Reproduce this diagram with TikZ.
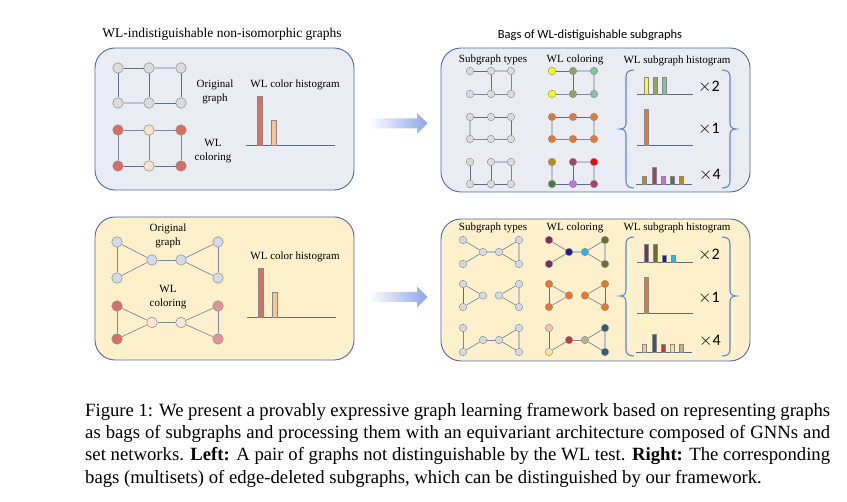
\documentclass[tikz,border=0pt]{standalone}
\usepackage{fontspec}
\setmainfont{Liberation Serif}
\newfontfamily\sansf{Carlito}
\definecolor{boxblue}{HTML}{E9ECF2}
\definecolor{boxyel}{HTML}{FDF0CA}
\definecolor{boxline}{HTML}{4A6AA5}
\definecolor{ngray}{HTML}{DCDCDC}
\definecolor{nline}{HTML}{888888}
\definecolor{nblue}{HTML}{D3DBEA}
\definecolor{wred}{HTML}{D6705F}
\definecolor{wpeach}{HTML}{FBE3C4}
\definecolor{wpeachb}{HTML}{FCE6D6}
\definecolor{wpink}{HTML}{E4929A}
\definecolor{barpeach}{HTML}{F8C690}
\definecolor{edark}{HTML}{5E6C88}
\definecolor{elight}{HTML}{BCC3CF}
\definecolor{axisc}{HTML}{5A6B85}
\definecolor{arrowc}{HTML}{8FA6E6}
\definecolor{bracec}{HTML}{5B86CC}
\definecolor{cyel}{HTML}{FFFF00}
\definecolor{colive}{HTML}{94A35A}
\definecolor{cteal}{HTML}{80C4A2}
\definecolor{corange}{HTML}{E8782F}
\definecolor{cgold}{HTML}{BF8A12}
\definecolor{cplum}{HTML}{A0446E}
\definecolor{cred}{HTML}{FF0000}
\definecolor{cgreen}{HTML}{4E7A3A}
\definecolor{cviolet}{HTML}{C470E0}
\definecolor{cpurple}{HTML}{7B2D6E}
\definecolor{cnavy}{HTML}{20208F}
\definecolor{csky}{HTML}{29B6F0}
\definecolor{cdolive}{HTML}{6B7030}
\definecolor{cpinkpe}{HTML}{F2C4B2}
\definecolor{cpaley}{HTML}{FBE49A}
\definecolor{ccrim}{HTML}{C0384A}
\definecolor{ckhaki}{HTML}{B5B77F}
\definecolor{cdteal}{HTML}{2F5C80}
\tikzset{
  panel/.style={draw=boxline, line width=0.9pt, rounded corners=20pt},
  bn/.style={circle, draw=nline, line width=0.5pt, minimum size=10.5pt, inner sep=0pt},
  sn/.style={circle, draw=nline, line width=0.4pt, minimum size=7.5pt, inner sep=0pt},
  ed/.style={draw=edark, line width=0.8pt},
  el/.style={draw=elight, line width=1.5pt},
  eg/.style={draw=edark!80, line width=0.7pt},
  lbl/.style={font=\fontsize{11}{13.5}\selectfont, align=center, inner sep=0pt},
  bar/.style={draw=nline, line width=0.4pt},
  axisline/.style={draw=axisc, line width=0.8pt},
  mult/.style={font=\sansf\fontsize{16}{16}\selectfont, inner sep=0pt},
  blockarrow/.style={left color=white, right color=arrowc},
  bracepath/.style={draw=bracec, line width=1.1pt}
}
\begin{document}
\begin{tikzpicture}[x=1pt,y=-1pt]
\useasboundingbox[fill=white] (0,0) rectangle (847,502);

% titles
\node[font=\fontsize{13.5}{15}\selectfont, inner sep=0pt] (ttl) at (222,34) {WL-indistiguishable non-isomorphic graphs};
\node[font=\sansf\fontsize{12.5}{14}\selectfont, inner sep=0pt] (ttr) at (590,35) {Bags of WL-distiguishable subgraphs};

% panels
\path[panel, fill=boxblue] (95,48) rectangle (354,190);
\path[panel, fill=boxyel] (95,217) rectangle (354,360);
\path[panel, fill=boxblue] (441,48) rectangle (750,192);
\path[panel, fill=boxyel] (441,219) rectangle (750,361);

% block arrows
\shade[blockarrow] (368,118.5) -- (417,118.5) -- (417,113) -- (427.5,123.5) -- (417,134) -- (417,128.5) -- (368,128.5) -- cycle;
\shade[blockarrow] (368,292) -- (417,292) -- (417,286.5) -- (427.5,297) -- (417,307.5) -- (417,302) -- (368,302) -- cycle;

% ===== top-left =====
\foreach \n/\x/\y in {a/118/68, b/149/68, c/181/68, d/118/103, e/149/103, f/181/103}
  \node[bn, fill=ngray] (A\n) at (\x,\y) {};
\draw[ed] (Aa)--(Ab); \draw[el] (Ab)--(Ac);
\draw[ed] (Aa)--(Ad); \draw[ed] (Ab)--(Ae); \draw[ed] (Ac)--(Af);
\draw[el] (Ad)--(Ae); \draw[ed] (Ae)--(Af);
\foreach \n/\x/\y/\c in {a/118/130/wred, b/149/130/wpeach, c/181/130/wred, d/118/166/wred, e/149/166/wpeach, f/181/166/wred}
  \node[bn, fill=\c] (B\n) at (\x,\y) {};
\draw[eg] (Ba)--(Bb); \draw[eg] (Bb)--(Bc);
\draw[eg] (Ba)--(Bd); \draw[eg] (Bb)--(Be); \draw[eg] (Bc)--(Bf);
\draw[ed] (Bd)--(Be); \draw[ed] (Be)--(Bf);
\node[lbl] (l1) at (215,92) {Original\\graph};
\node[lbl] (l2) at (213,151) {WL\\coloring};
\node[lbl] (l3) at (295,85) {WL color histogram};
\draw[axisline] (246,145) -- (335,145);
\draw[bar, fill=wred] (257,145) rectangle (262,96);
\draw[bar, fill=barpeach] (271,145) rectangle (276,120);

% ===== bottom-left =====
\foreach \n/\x/\y in {a/117/242, b/117/278, c/152/260, d/181/260, e/218/242, f/218/278}
  \node[bn, fill=nblue] (C\n) at (\x,\y) {};
\draw[eg] (Ca)--(Cb); \draw[eg] (Ca)--(Cc); \draw[eg] (Cb)--(Cc);
\draw[eg] (Cc)--(Cd); \draw[eg] (Cd)--(Ce); \draw[eg] (Cd)--(Cf); \draw[eg] (Ce)--(Cf);
\foreach \n/\x/\y/\c in {a/117/306/wred, b/117/339/wred, c/152/322.5/wpeachb, d/181/322.5/wpeachb, e/218/306/wpink, f/218/339/wpink}
  \node[bn, fill=\c] (D\n) at (\x,\y) {};
\draw[eg] (Da)--(Db); \draw[eg] (Da)--(Dc); \draw[eg] (Db)--(Dc);
\draw[eg] (Dc)--(Dd); \draw[eg] (Dd)--(De); \draw[eg] (Dd)--(Df); \draw[eg] (De)--(Df);
\node[lbl] (l4) at (168,236) {Original\\graph};
\node[lbl] (l5) at (168,297) {WL\\coloring};
\node[lbl] (l6) at (295,257) {WL color histogram};
\draw[axisline] (247,317) -- (336,317);
\draw[bar, fill=wred] (258,317) rectangle (263,268);
\draw[bar, fill=barpeach] (272,317) rectangle (277,292);

% ===== top-right =====
\node[lbl] (l7) at (493,60) {Subgraph types};
\node[lbl] (l8) at (575,60) {WL coloring};
\node[lbl] (l9) at (677,61) {WL subgraph histogram};
% row 1 (left vertical deleted)
\foreach \n/\x/\y in {a/470/71, b/491/71, c/511/71, d/470/94, e/491/94, f/511/94}
  \node[sn, fill=ngray] (P\n) at (\x,\y) {};
\draw[ed] (Pa)--(Pb); \draw[el] (Pb)--(Pc); \draw[ed] (Pb)--(Pe); \draw[eg] (Pc)--(Pf);
\draw[eg] (Pd)--(Pe); \draw[eg] (Pe)--(Pf);
\foreach \n/\x/\y/\c in {a/552/71/cyel, b/573/71/colive, c/594/71/cteal, d/552/94/cyel, e/573/94/colive, f/594/94/cteal}
  \node[sn, fill=\c] (Q\n) at (\x,\y) {};
\draw[ed] (Qa)--(Qb); \draw[el] (Qb)--(Qc); \draw[ed] (Qb)--(Qe); \draw[el] (Qc)--(Qf);
\draw[eg] (Qd)--(Qe); \draw[eg] (Qe)--(Qf);
% row 2 (middle vertical deleted)
\foreach \n/\x/\y in {a/470/117, b/491/117, c/511/117, d/470/139, e/491/139, f/511/139}
  \node[sn, fill=ngray] (R\n) at (\x,\y) {};
\draw[ed] (Ra)--(Rb); \draw[ed] (Rb)--(Rc); \draw[el] (Ra)--(Rd); \draw[ed] (Rc)--(Rf);
\draw[eg] (Rd)--(Re); \draw[eg] (Re)--(Rf);
\foreach \n/\x/\y in {a/552/117, b/573/117, c/594/117, d/552/139, e/573/139, f/594/139}
  \node[sn, fill=corange] (S\n) at (\x,\y) {};
\draw[ed] (Sa)--(Sb); \draw[ed] (Sb)--(Sc); \draw[el] (Sa)--(Sd); \draw[el] (Sc)--(Sf);
\draw[eg] (Sd)--(Se); \draw[eg] (Se)--(Sf);
% row 3 (top-left edge deleted)
\foreach \n/\x/\y in {a/470/162, b/491/162, c/511/162, d/470/184, e/491/184, f/511/184}
  \node[sn, fill=ngray] (T\n) at (\x,\y) {};
\draw[el] (Tb)--(Tc); \draw[ed] (Ta)--(Td); \draw[ed] (Tb)--(Te); \draw[eg] (Tc)--(Tf);
\draw[ed] (Td)--(Te); \draw[ed] (Te)--(Tf);
\foreach \n/\x/\y/\c in {a/552/162/cgold, b/573/162/cplum, c/594/162/cred, d/552/184/cgreen, e/573/184/cviolet, f/594/184/cplum}
  \node[sn, fill=\c] (U\n) at (\x,\y) {};
\draw[el] (Ub)--(Uc); \draw[el] (Ua)--(Ud); \draw[ed] (Ub)--(Ue); \draw[el] (Uc)--(Uf);
\draw[ed] (Ud)--(Ue); \draw[ed] (Ue)--(Uf);
% histograms
\draw[axisline] (637,94) -- (693,94);
\draw[bar, fill=cyel] (644.3,94) rectangle (647.7,77);
\draw[bar, fill=colive] (653.3,94) rectangle (656.7,77);
\draw[bar, fill=cteal] (662.3,94) rectangle (665.7,77);
\draw[axisline] (637,145) -- (693,145);
\draw[bar, fill=corange] (644.3,145) rectangle (647.7,109);
\draw[axisline] (636,184) -- (692,184);
\draw[bar, fill=cgold] (642.3,184) rectangle (645.7,176);
\draw[bar, fill=cplum] (652.3,184) rectangle (655.7,167);
\draw[bar, fill=cviolet] (661.3,184) rectangle (664.7,176);
\draw[bar, fill=cgreen] (670.3,184) rectangle (673.7,176);
\draw[bar, fill=cgold] (679.3,184) rectangle (682.7,176);
\node[mult] (m1) at (709,87) {$\times$2};
\node[mult] (m2) at (709,129) {$\times$1};
\node[mult] (m3) at (710,175) {$\times$4};
\draw[bracepath] (634,70) .. controls (629,70) and (626,72) .. (626,77) -- (626,123)
  .. controls (626,127) and (624,129) .. (620,129) .. controls (624,129) and (626,131) .. (626,135)
  -- (626,181) .. controls (626,186) and (629,188) .. (634,188);
\draw[bracepath] (722,70) .. controls (727,70) and (730,72) .. (730,77) -- (730,123)
  .. controls (730,127) and (732,129) .. (736,129) .. controls (732,129) and (730,131) .. (730,135)
  -- (730,181) .. controls (730,186) and (727,188) .. (722,188);

% ===== bottom-right =====
\node[lbl] (l10) at (493,228) {Subgraph types};
\node[lbl] (l11) at (575,228) {WL coloring};
\node[lbl] (l12) at (677,228) {WL subgraph histogram};
% row 1 (left side edge deleted)
\foreach \n/\x/\y in {a/463/240, b/463/264, c/483/252, d/499/252, e/519/240, f/519/264}
  \node[sn, fill=nblue] (E\n) at (\x,\y) {};
\draw[eg] (Ea)--(Ec); \draw[eg] (Eb)--(Ec); \draw[el] (Ec)--(Ed);
\draw[eg] (Ed)--(Ee); \draw[eg] (Ed)--(Ef); \draw[el] (Ee)--(Ef);
\foreach \n/\x/\y/\c in {a/549/240/cpurple, b/549/264/cpurple, c/569/252/cnavy, d/585/252/csky, e/605/240/cdolive, f/605/264/cdolive}
  \node[sn, fill=\c] (F\n) at (\x,\y) {};
\draw[eg] (Fa)--(Fc); \draw[eg] (Fb)--(Fc); \draw[el] (Fc)--(Fd);
\draw[eg] (Fd)--(Fe); \draw[eg] (Fd)--(Ff); \draw[el] (Fe)--(Ff);
% row 2 (bridge deleted)
\foreach \n/\x/\y in {a/463/284, b/463/307, c/483/295.5, d/499/295.5, e/519/284, f/519/307}
  \node[sn, fill=nblue] (G\n) at (\x,\y) {};
\draw[ed] (Ga)--(Gb); \draw[eg] (Ga)--(Gc); \draw[eg] (Gb)--(Gc);
\draw[eg] (Gd)--(Ge); \draw[eg] (Gd)--(Gf); \draw[el] (Ge)--(Gf);
\foreach \n/\x/\y in {a/549/284, b/549/307, c/569/295.5, d/585/295.5, e/605/284, f/605/307}
  \node[sn, fill=corange] (H\n) at (\x,\y) {};
\draw[ed] (Ha)--(Hb); \draw[eg] (Ha)--(Hc); \draw[eg] (Hb)--(Hc);
\draw[eg] (Hd)--(He); \draw[eg] (Hd)--(Hf); \draw[ed] (He)--(Hf);
% row 3 (upper-left diagonal deleted)
\foreach \n/\x/\y in {a/463/328, b/463/352, c/483/340, d/499/340, e/519/328, f/519/352}
  \node[sn, fill=nblue] (J\n) at (\x,\y) {};
\draw[eg] (Ja)--(Jb); \draw[eg] (Jb)--(Jc); \draw[eg] (Jc)--(Jd);
\draw[eg] (Jd)--(Je); \draw[eg] (Jd)--(Jf); \draw[el] (Je)--(Jf);
\foreach \n/\x/\y/\c in {a/549/328/cpinkpe, b/549/352/cpaley, c/569/340/ccrim, d/585/340/ckhaki, e/605/328/cdteal, f/605/352/cdteal}
  \node[sn, fill=\c] (K\n) at (\x,\y) {};
\draw[ed] (Ka)--(Kb); \draw[eg] (Kb)--(Kc); \draw[eg] (Kc)--(Kd);
\draw[eg] (Kd)--(Ke); \draw[eg] (Kd)--(Kf); \draw[el] (Ke)--(Kf);
% histograms
\draw[axisline] (637,262) -- (693,262);
\draw[bar, fill=cpurple] (644.3,262) rectangle (647.7,244);
\draw[bar, fill=cdolive] (653.3,262) rectangle (656.7,244);
\draw[bar, fill=cnavy] (662.3,262) rectangle (665.7,255);
\draw[bar, fill=csky] (671.3,262) rectangle (674.7,255);
\draw[axisline] (637,313) -- (693,313);
\draw[bar, fill=corange] (644.3,313) rectangle (647.7,277);
\draw[axisline] (636,352) -- (692,352);
\draw[bar, fill=cpinkpe] (642.3,352) rectangle (645.7,344);
\draw[bar, fill=cdteal] (652.3,352) rectangle (655.7,334);
\draw[bar, fill=ccrim] (661.3,352) rectangle (664.7,344);
\draw[bar, fill=cpaley] (670.3,352) rectangle (673.7,344);
\draw[bar, fill=ckhaki] (679.3,352) rectangle (682.7,344);
\node[mult] (m4) at (709,255) {$\times$2};
\node[mult] (m5) at (709,298) {$\times$1};
\node[mult] (m6) at (710,341) {$\times$4};
\draw[bracepath] (634,237) .. controls (629,237) and (626,239) .. (626,244) -- (626,290)
  .. controls (626,294) and (624,296) .. (620,296) .. controls (624,296) and (626,298) .. (626,302)
  -- (626,350) .. controls (626,354) and (629,356) .. (634,356);
\draw[bracepath] (722,237) .. controls (727,237) and (730,239) .. (730,244) -- (730,290)
  .. controls (730,294) and (732,296) .. (736,296) .. controls (732,296) and (730,298) .. (730,302)
  -- (730,350) .. controls (730,354) and (727,356) .. (722,356);

% caption
\node[anchor=north west, inner sep=0pt, text width=745pt, align=justify,
      font=\fontsize{18.7}{22.3}\selectfont] (cap) at (85,403)
{Figure 1: We present a provably expressive graph learning framework based on representing graphs\linebreak
as bags of subgraphs and processing them with an equivariant architecture composed of GNNs and\linebreak
set networks. \textbf{Left:} A pair of graphs not distinguishable by the WL test. \textbf{Right:} The corresponding\linebreak
bags (multisets) of edge-deleted subgraphs, which can be distinguished by our framework.};
\end{tikzpicture}
\end{document}
